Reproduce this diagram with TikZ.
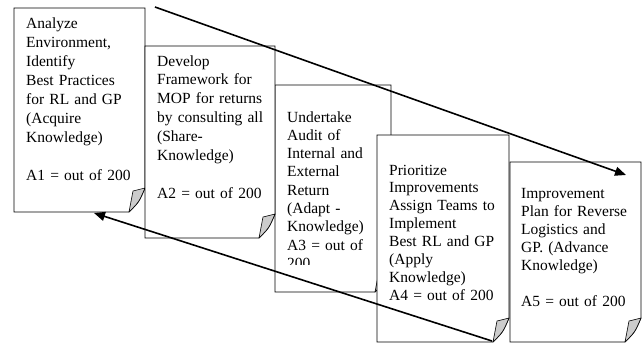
\documentclass[tikz,border=0pt]{standalone}
\usepackage{fontspec}
\setmainfont{Liberation Serif}
\usetikzlibrary{arrows.meta}
\tikzset{
  docbox/.style={draw=black, line width=0.8pt, fill=white, line join=miter},
  flapstyle/.style={draw=black, line width=0.6pt, fill=gray!40, line join=round},
  boxtext/.style={anchor=base west, inner sep=0pt, text width=128pt, align=left,
    font=\fontsize{15.5}{#1}\selectfont},
  flowarrow/.style={line width=1.6pt, -{Triangle[length=11pt,width=9pt]}},
}
\newcommand{\docshape}[4]{%
  \filldraw[docbox] (#1,#2) -- (#3,#2) -- (#3,#4-24) .. controls (#3-6,#4-10) .. (#3-16,#4) -- (#1,#4) -- cycle;
  \filldraw[flapstyle] (#3-16,#4) -- (#3-12,#4-21) -- (#3,#4-24) .. controls (#3-6,#4-10) .. cycle;
}
\begin{document}
\begin{tikzpicture}[x=1pt,y=-1pt]
\useasboundingbox (0,0) rectangle (643,343);
% box 3 (under box 4)
\docshape{275}{85}{391}{292}
\begin{scope}
  \clip (275,85) rectangle (391,264);
  \node[boxtext=18.3pt] (t3) at (287,122) {Undertake\\Audit of\\Internal and\\External\\Return\\(Adapt -\\Knowledge)\\A3 = out of\\200};
\end{scope}
% box 4
\docshape{377}{135}{509}{342}
\node[boxtext=17.9pt] (t4) at (389,175) {Prioritize\\Improvements\\Assign Teams to\\Implement\\Best RL and GP\\(Apply\\Knowledge)\\A4 = out of 200};
% box 1
\docshape{14}{8}{145}{212}
\node[boxtext=19.1pt] (t1) at (26,28) {Analyze\\Environment,\\Identify\\Best Practices\\for RL and GP\\(Acquire\\Knowledge)\\[19.1pt]A1 = out of 200};
% box 2
\docshape{145}{46}{275}{238}
\node[boxtext=18.9pt] (t2) at (157,66) {Develop\\Framework for\\MOP for returns\\by consulting all\\(Share-\\Knowledge)\\[18.9pt]A2 = out of 200};
% box 5
\docshape{510}{162}{641}{342}
\node[boxtext=18pt] (t5) at (521,198) {Improvement\\Plan for Reverse\\Logistics and\\GP. (Advance\\Knowledge)\\[18pt]A5 = out of 200};
% arrows
\coordinate (a1s) at (155,7);
\coordinate (a1e) at (626,175);
\coordinate (a2s) at (492,341);
\coordinate (a2e) at (94,213);
\draw[flowarrow] (a1s) -- (a1e);
\draw[flowarrow] (a2s) -- (a2e);
\end{tikzpicture}
\end{document}
